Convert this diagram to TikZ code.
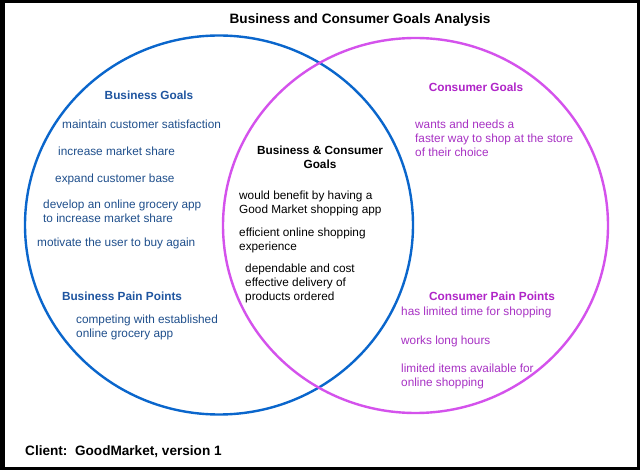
\documentclass[tikz,border=0pt]{standalone}
\usepackage{fontspec}
\setmainfont{Liberation Sans}
\definecolor{bcircle}{HTML}{0A66CC}
\definecolor{pcircle}{HTML}{D452EC}
\definecolor{btext}{HTML}{1F4F8C}
\definecolor{bhead}{HTML}{1F55A0}
\definecolor{ptext}{HTML}{A832C4}
\definecolor{phead}{HTML}{B025C8}
\tikzset{
  body/.style={font=\fontsize{11.8}{14}\selectfont, inner sep=0pt, align=left, anchor=west},
  head/.style={font=\fontsize{11.8}{13.5}\selectfont\bfseries, inner sep=0pt, align=center},
  big/.style={font=\fontsize{13.6}{16}\selectfont\bfseries, inner sep=0pt},
  bizbody/.style={body, text=btext},
  bizhead/.style={head, text=bhead},
  conbody/.style={body, text=ptext},
  conhead/.style={head, text=phead},
  ring/.style={line width=2.4pt}
}
\begin{document}
\begin{tikzpicture}[x=1pt,y=-1pt]
\useasboundingbox (0,0) rectangle (640,470);
\fill[black] (0,0) rectangle (640,470);
\fill[white] (5,3) rectangle (637,467);
% circles
\draw[ring, draw=bcircle] (219,225) ellipse [x radius=194, y radius=189.5];
\draw[ring, draw=pcircle] (415.5,225.5) ellipse [x radius=192.5, y radius=187.5];
% title and client
\node[big] (title) at (360,20) {Business and Consumer Goals Analysis};
\node[big, anchor=west] (client) at (25,452) {Client:\ \ GoodMarket, version 1};
% business
\node[bizhead] (bg) at (149,95) {Business Goals};
\node[bizbody] (b1) at (62,124) {maintain customer satisfaction};
\node[bizbody] (b2) at (58,151) {increase market share};
\node[bizbody] (b3) at (55,179) {expand customer base};
\node[bizbody] (b4) at (43,211.5) {develop an online grocery app\\to increase market share};
\node[bizbody] (b5) at (37,243) {motivate the user to buy again};
\node[bizhead] (bp) at (122,296) {Business Pain Points};
\node[bizbody] (bp1) at (76,327.5) {competing with established\\online grocery app};
% shared
\node[head] (sg) at (320,157.5) {Business \& Consumer\\Goals};
\node[body] (s1) at (239,203) {would benefit by having a\\Good Market shopping app};
\node[body] (s2) at (239,240) {efficient online shopping\\experience};
\node[body] (s3) at (245,283) {dependable and cost\\effective delivery of\\products ordered};
% consumer
\node[conhead] (cg) at (476,87) {Consumer Goals};
\node[conbody] (c1) at (415,138.5) {wants and needs a\\faster way to shop at the store\\of their choice};
\node[conhead] (cp) at (492,296) {Consumer Pain Points};
\node[conbody] (cp1) at (401,312) {has limited time for shopping};
\node[conbody] (cp2) at (401,341) {works long hours};
\node[conbody] (cp3) at (401,376) {limited items available for\\online shopping};
\end{tikzpicture}
\end{document}
